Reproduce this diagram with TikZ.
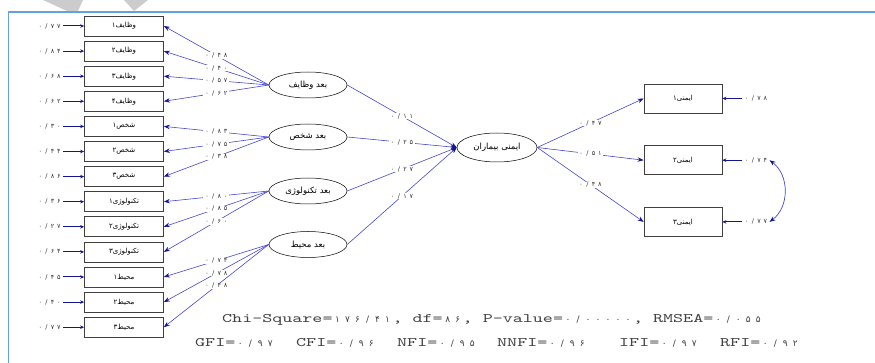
\documentclass[tikz,border=0pt]{standalone}
\usepackage{fontspec}
\usetikzlibrary{positioning,arrows.meta,shapes.geometric}
\TeXXeTstate=1
\newfontfamily\fa[Script=Arabic]{DejaVu Sans}
\newfontfamily\cour{lmmono10-regular}[Extension=.otf,FakeStretch=1.47]
\definecolor{pathblue}{RGB}{70,70,210}
\definecolor{tipblue}{RGB}{20,20,150}
\definecolor{framebl}{RGB}{100,160,220}
\newlength\dgw
\newcommand\dgfont{}
\newcommand\rl[1]{{\beginR#1\endR}}
\newcommand\dg[1]{\dgloop#1\relax}
\def\dgloop#1{\ifx#1\relax\else\makebox[\dgw]{\dgfont#1}\expandafter\dgloop\fi}
\tikzset{
  ind/.style={draw=black!75, line width=0.7pt, minimum width=79pt, minimum height=20pt,
              inner sep=1pt, font=\fa\fontsize{7}{8}\selectfont},
  safe/.style={ind, minimum width=78pt, minimum height=29pt},
  lat/.style={ellipse, draw, line width=0.5pt, minimum width=78pt, minimum height=26pt,
              inner sep=0pt, font=\fa\fontsize{8.5}{9}\selectfont},
  load/.style={fill=white, inner sep=0.5pt, text=black!80,
               font=\fa\fontsize{6.5}{7}\selectfont\setlength\dgw{6.2pt}},
  err/.style={inner sep=1pt, text=black!80,
              font=\fa\fontsize{6.5}{7}\selectfont\setlength\dgw{6.2pt}},
  stat/.style={anchor=west, inner sep=0pt, text=black!75,
               font=\cour\fontsize{13}{13}\selectfont\setlength\dgw{10pt}\def\dgfont{\fa\fontsize{9}{9}\selectfont}},
  lnk/.style={draw=pathblue, line width=0.6pt, -{Stealth[length=6pt,width=4.5pt,color=tipblue]}},
  errlnk/.style={draw=tipblue, line width=1pt, -{Stealth[length=4pt,width=3.5pt]}},
  cov/.style={draw=pathblue, line width=0.7pt,
              {Stealth[length=6pt,width=4.5pt,color=tipblue]}-{Stealth[length=6pt,width=4.5pt,color=tipblue]}},
}
\begin{document}
\begin{tikzpicture}[x=1pt, y=-1pt, node distance=4.4pt]
  \useasboundingbox (0,0) rectangle (875,363);
  \fill[black!20] (43,0) -- (83,0) -- (78,11) -- (67,11) -- cycle;
  \fill[black!20] (124,0) -- (148,0) -- (134,11) -- cycle;
  \draw[framebl, line width=1.5pt] (875,12) -- (8.5,12) -- (8.5,363);

  \node[ind] (w1) at (124,26) {\rl{وظایف۱}};
  \node[ind, below=of w1] (w2) {\rl{وظایف۲}};
  \node[ind, below=of w2] (w3) {\rl{وظایف۳}};
  \node[ind, below=of w3] (w4) {\rl{وظایف۴}};
  \node[ind, below=of w4] (s1) {\rl{شخص۱}};
  \node[ind, below=of s1] (s2) {\rl{شخص۲}};
  \node[ind, below=of s2] (s3) {\rl{شخص۳}};
  \node[ind, below=of s3] (t1) {\rl{تکنولوژی۱}};
  \node[ind, below=of t1] (t2) {\rl{تکنولوژی۲}};
  \node[ind, below=of t2] (t3) {\rl{تکنولوژی۳}};
  \node[ind, below=of t3] (m1) {\rl{محیط۱}};
  \node[ind, below=of m1] (m2) {\rl{محیط۲}};
  \node[ind, below=of m2] (m3) {\rl{محیط۳}};

  \node[err, left=21pt of w1] (ew1) {\dg{۰/۷۷}};
  \node[err, left=21pt of w2] (ew2) {\dg{۰/۸۴}};
  \node[err, left=21pt of w3] (ew3) {\dg{۰/۶۸}};
  \node[err, left=21pt of w4] (ew4) {\dg{۰/۶۲}};
  \node[err, left=21pt of s1] (es1) {\dg{۰/۳۰}};
  \node[err, left=21pt of s2] (es2) {\dg{۰/۴۴}};
  \node[err, left=21pt of s3] (es3) {\dg{۰/۸۶}};
  \node[err, left=21pt of t1] (et1) {\dg{۰/۳۶}};
  \node[err, left=21pt of t2] (et2) {\dg{۰/۲۷}};
  \node[err, left=21pt of t3] (et3) {\dg{۰/۶۴}};
  \node[err, left=21pt of m1] (em1) {\dg{۰/۴۵}};
  \node[err, left=21pt of m2] (em2) {\dg{۰/۴۰}};
  \node[err, left=21pt of m3] (em3) {\dg{۰/۷۷}};
  \foreach \e/\v in {ew1/w1, ew2/w2, ew3/w3, ew4/w4, es1/s1, es2/s2, es3/s3,
                     et1/t1, et2/t2, et3/t3, em1/m1, em2/m2, em3/m3}
    \draw[errlnk] (\e) -- (\v);

  \node[lat] (vz) at (308,85) {\rl{بعد وظایف}};
  \node[lat] (vs) at (308,137) {\rl{بعد شخص}};
  \node[lat] (vt) at (308,191) {\rl{بعد تکنولوژی}};
  \node[lat] (vm) at (308,244.5) {\rl{بعد محیط}};
  \node[lat, minimum width=80pt, minimum height=29pt] (safety) at (497,147.5) {\rl{ایمنی بیماران}};

  \draw[lnk] (vz.west) -- node[load] {\dg{۰/۴۸}} (w1.east);
  \draw[lnk] (vz.west) -- node[load] {\dg{۰/۴۰}} (w2.east);
  \draw[lnk] (vz.west) -- node[load] {\dg{۰/۵۷}} (w3.east);
  \draw[lnk] (vz.west) -- node[load] {\dg{۰/۶۲}} (w4.east);
  \draw[lnk] (vs.west) -- node[load] {\dg{۰/۸۳}} (s1.east);
  \draw[lnk] (vs.west) -- node[load] {\dg{۰/۷۵}} (s2.east);
  \draw[lnk] (vs.west) -- node[load] {\dg{۰/۳۸}} (s3.east);
  \draw[lnk] (vt.west) -- node[load] {\dg{۰/۸۰}} (t1.east);
  \draw[lnk] (vt.west) -- node[load] {\dg{۰/۸۵}} (t2.east);
  \draw[lnk] (vt.west) -- node[load] {\dg{۰/۶۰}} (t3.east);
  \draw[lnk] (vm.west) -- node[load] {\dg{۰/۷۴}} (m1.east);
  \draw[lnk] (vm.west) -- node[load] {\dg{۰/۷۸}} (m2.east);
  \draw[lnk] (vm.west) -- node[load] {\dg{۰/۴۸}} (m3.east);

  \draw[lnk] (vz.east) -- node[load] {\dg{۰/۱۱}} (safety.west);
  \draw[lnk] (vs.east) -- node[load] {\dg{۰/۲۵}} (safety.west);
  \draw[lnk] (vt.east) -- node[load] {\dg{۰/۲۷}} (safety.west);
  \draw[lnk] (vm.east) -- node[load] {\dg{۰/۱۷}} (safety.west);

  \node[safe] (a1) at (683,98.5) {\rl{ایمنی۱}};
  \node[safe, below=32pt of a1] (a2) {\rl{ایمنی۲}};
  \node[safe, below=32pt of a2] (a3) {\rl{ایمنی۳}};
  \draw[lnk] (safety.east) -- node[load] {\dg{۰/۴۷}} (a1.west);
  \draw[lnk] (safety.east) -- node[load] {\dg{۰/۵۱}} (a2.west);
  \draw[lnk] (safety.east) -- node[load] {\dg{۰/۴۸}} (a3.west);

  \node[err, right=20pt of a1] (ea1) {\dg{۰/۷۸}};
  \node[err, right=20pt of a2] (ea2) {\dg{۰/۷۴}};
  \node[err, right=20pt of a3] (ea3) {\dg{۰/۷۷}};
  \draw[errlnk] (ea1) -- (a1);
  \draw[errlnk] (ea2) -- (a2);
  \draw[errlnk] (ea3) -- (a3);
  \draw[cov] (ea2.east) .. controls +(20,15) and +(20,-15) .. (ea3.east);

  \node[stat] (chi) at (222,320) {Chi-Square=\dg{۱۷۶/۴۱}, df=\dg{۸۶}, P-value=\dg{۰/۰۰۰۰۰}, RMSEA=\dg{۰/۰۵۵}};
  \node[stat] (gfi) at (195,343) {GFI=\dg{۰/۹۷}};
  \node[stat] (cfi) at (296,343) {CFI=\dg{۰/۹۶}};
  \node[stat] (nfi) at (397,343) {NFI=\dg{۰/۹۵}};
  \node[stat] (nnfi) at (497,343) {NNFI=\dg{۰/۹۶}};
  \node[stat] (ifi) at (619,343) {IFI=\dg{۰/۹۷}};
  \node[stat] (rfi) at (720,343) {RFI=\dg{۰/۹۲}};
\end{tikzpicture}
\end{document}
